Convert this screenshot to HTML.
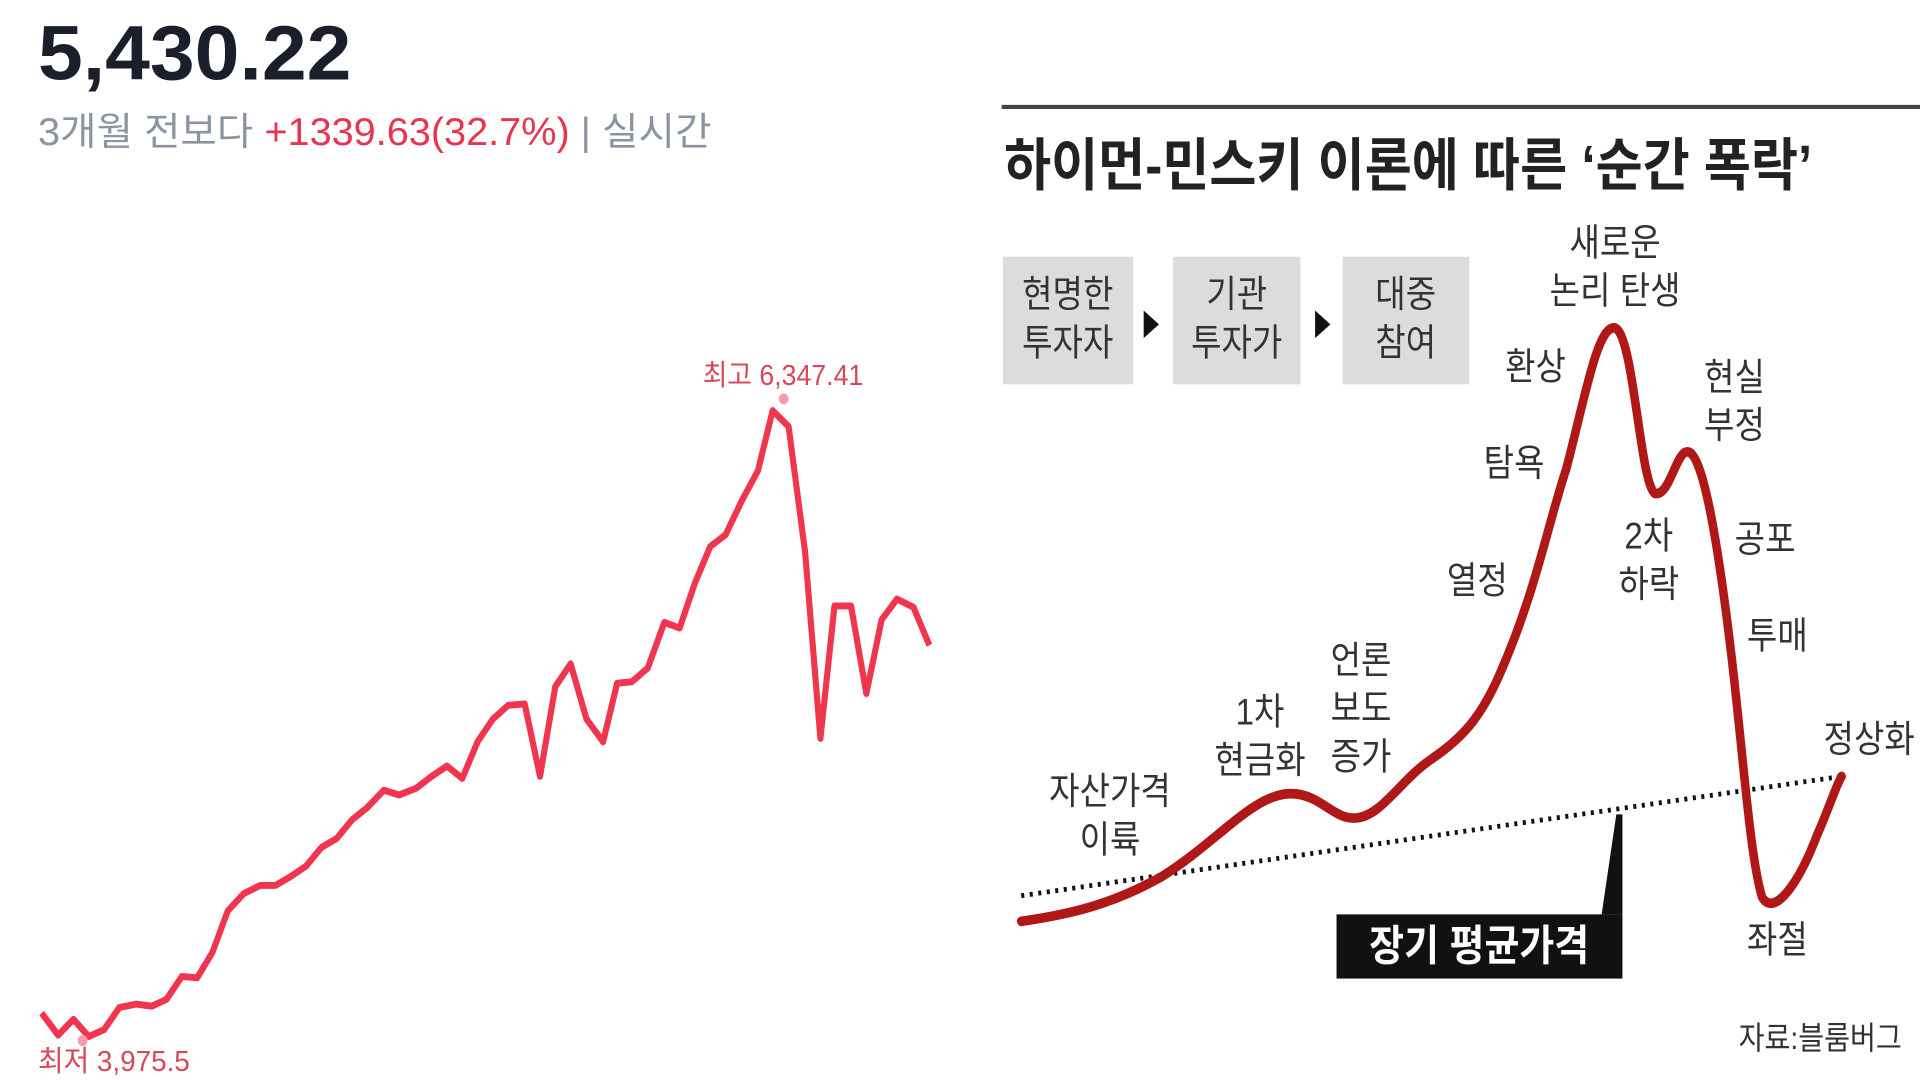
<!DOCTYPE html>
<html><head><meta charset="utf-8"><style>
html,body{margin:0;padding:0;background:#fff;width:1920px;height:1080px;overflow:hidden}
svg{position:absolute;top:0}
text{font-family:"Liberation Sans","Noto Sans CJK KR",sans-serif}
</style></head><body>
<svg style="left:0" width="960" height="1080" viewBox="0 0 1568 1565" preserveAspectRatio="none">
<text x="62" y="115" font-size="112" font-weight="bold" fill="#1a1f2b" textLength="512" lengthAdjust="spacingAndGlyphs">5,430.22</text>
<text x="62" y="210" font-size="56" fill="#8b95a1" textLength="1100" lengthAdjust="spacingAndGlyphs">3개월 전보다 <tspan fill="#e8344e">+1339.63(32.7%)</tspan>  |  실시간</text>
<polyline fill="none" stroke="#f0364f" stroke-width="10" stroke-linejoin="round" points="68,1468 95,1500 120,1477 145,1502 170,1492 195,1460 222,1455 248,1458 272,1448 297,1415 322,1417 347,1380 372,1320 398,1295 425,1283 450,1283 475,1270 500,1255 525,1228 550,1215 575,1188 600,1170 627,1145 652,1152 680,1142 705,1125 730,1110 755,1128 780,1075 805,1042 830,1022 857,1020 882,1125 907,995 932,962 958,1042 985,1075 1008,990 1032,988 1058,968 1085,902 1110,910 1135,845 1160,792 1185,775 1212,725 1238,682 1262,595 1288,618 1315,800 1340,1070 1363,878 1390,878 1415,1005 1440,898 1465,868 1492,880 1518,935"/>
<circle cx="1280" cy="578" r="8" fill="#f4a0ab"/>
<circle cx="135" cy="1508" r="8" fill="#f4a0ab"/>
<text x="1148" y="558" font-size="42" fill="#d9475a" textLength="262" lengthAdjust="spacingAndGlyphs">최고 6,347.41</text>
<text x="62" y="1552" font-size="42" fill="#d9475a" textLength="248" lengthAdjust="spacingAndGlyphs">최저 3,975.5</text>
</svg>
<svg style="left:960px" width="960" height="1080" viewBox="0 0 1568 1565" preserveAspectRatio="none">
<line x1="68" y1="155" x2="1568" y2="155" stroke="#444" stroke-width="6"/>
<text x="72" y="268" font-size="82" font-weight="bold" fill="#222" textLength="1320" lengthAdjust="spacingAndGlyphs">하이먼-민스키 이론에 따른 ‘순간 폭락’</text>
<g fill="#dcdcdc"><rect x="70" y="372" width="213" height="185"/><rect x="348" y="372" width="208" height="185"/><rect x="625" y="372" width="207" height="185"/></g>
<g fill="#111"><polygon points="300,450 325,470 300,490"/><polygon points="580,450 605,470 580,490"/></g>
<g font-size="54" fill="#333" text-anchor="middle">
<text x="176" y="445">현명한</text><text x="176" y="515">투자자</text>
<text x="452" y="445">기관</text><text x="452" y="515">투자가</text>
<text x="728" y="445">대중</text><text x="728" y="515">참여</text>
<text x="1070" y="370">새로운</text><text x="1070" y="440">논리 탄생</text>
<text x="940" y="550">환상</text><text x="905" y="690">탐욕</text><text x="845" y="860">열정</text>
<text x="1265" y="565">현실</text><text x="1265" y="635">부정</text>
<text x="1125" y="795">2차</text><text x="1125" y="865">하락</text>
<text x="1315" y="800">공포</text><text x="1335" y="940">투매</text>
<text x="655" y="975">언론</text><text x="655" y="1045">보도</text><text x="655" y="1115">증가</text>
<text x="490" y="1050">1차</text><text x="490" y="1120">현금화</text>
<text x="245" y="1165">자산가격</text><text x="245" y="1235">이륙</text>
<text x="1485" y="1090">정상화</text><text x="1335" y="1380">좌절</text>
</g>
<line x1="100" y1="1298" x2="1440" y2="1125" stroke="#111" stroke-width="7" stroke-dasharray="5,9"/>
<path fill="none" stroke="#b01818" stroke-width="14" stroke-linecap="round" d="M100,1335 C180,1325 250,1310 330,1270 C420,1220 480,1150 540,1150 C590,1150 610,1190 650,1185 C690,1180 720,1130 770,1100 C820,1070 850,1040 880,980 C940,860 960,760 990,680 C1020,580 1040,475 1068,475 C1100,475 1110,700 1135,715 C1160,720 1170,650 1190,655 C1215,660 1240,800 1260,950 C1280,1100 1290,1240 1310,1300 C1330,1330 1370,1280 1400,1210 C1420,1170 1430,1140 1440,1125"/>
<polygon points="1072,1180 1082,1180 1082,1325 1048,1325" fill="#111"/>
<rect x="615" y="1325" width="467" height="93" fill="#111"/>
<text x="848" y="1392" font-size="62" font-weight="bold" fill="#fff" text-anchor="middle">장기 평균가격</text>
<text x="1405" y="1520" font-size="46" fill="#333" text-anchor="middle">자료:블룸버그</text>
</svg>
</body></html>
